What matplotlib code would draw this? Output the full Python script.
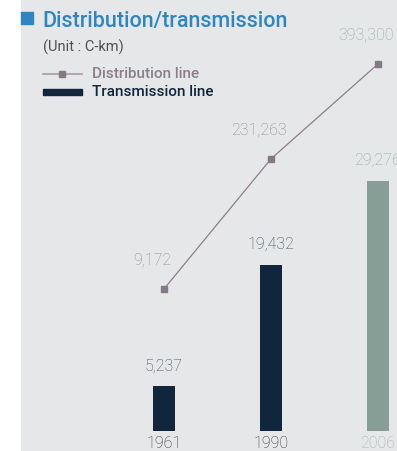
import matplotlib.pyplot as plt
from matplotlib.patches import Rectangle
from matplotlib.lines import Line2D

# circuit length, C-km
years = ['1961', '1990', '2006']
transmission = [5237, 19432, 29276]
distribution = [9172, 231263, 393300]

W, H = 397, 452
NAVY = '#10263c'
SAGE = '#869e95'
MAUVE = '#8a7f89'

plt.rcParams['font.family'] = ['Roboto', 'DejaVu Sans']

fig = plt.figure(figsize=(W / 100, H / 100), dpi=100, facecolor='white')


def fx(px):
    return px / W


def fy(py):
    return 1 - py / H


ax = fig.add_axes([fx(21), 0, 1 - fx(21), 1])
ax.set_facecolor('#e6e7e9')
xs = list(range(len(years)))
bar_colors = [NAVY, NAVY, SAGE]
ax.bar(xs, transmission, width=0.2, color=bar_colors)
ax.set_xlim(-1.336, 2.178)
ax.set_ylim(-2342, 50590)
ax.set_xticks([])
ax.set_yticks([])
for s in ax.spines.values():
    s.set_visible(False)

# bar values and years
val_colors = ['#3c4655', '#3c4655', '#8fa99f']
year_colors = ['#333333', '#333333', '#9fb3ab']
for i, v in enumerate(transmission):
    ax.annotate(f'{v:,}', xy=(i, v), xytext=(0, 14), textcoords='offset pixels',
                ha='center', va='bottom', fontsize=11.5, fontweight='light',
                color=val_colors[i])
    ax.annotate(years[i], xy=(i, 0), xytext=(0, -4), textcoords='offset pixels',
                ha='center', va='top', fontsize=11.5, fontweight='light',
                color=year_colors[i])

# distribution line on its own scale
ax2 = ax.twinx()
ax2.plot(xs, distribution, color='#8c8089', lw=0.9, marker='s', ms=5,
         mfc='#857985', mec='#857985', zorder=3)
ax2.set_ylim(-267394, 504260)
ax2.set_yticks([])
for s in ax2.spines.values():
    s.set_visible(False)

line_colors = ['#8f8a90', '#8f8a90', '#8fa99f']
for i, v in enumerate(distribution):
    ax2.annotate(f'{v:,}', xy=(i, v), xytext=(-12, 22), textcoords='offset pixels',
                 ha='center', va='bottom', fontsize=11.5, fontweight='light',
                 color=line_colors[i], annotation_clip=False)

# header
fig.patches.append(Rectangle((fx(21), fy(25)), fx(12), 12 / H,
                             transform=fig.transFigure, color='#2e86c1'))
fig.text(fx(42), fy(22), 'Distribution/transmission', fontsize=15.5,
         fontweight='medium', color='#2e86c1', va='center')
fig.text(fx(43), fy(47), '(Unit : C-km)', fontsize=10.5,
         color='#505050', va='center')

# legend
fig.lines.append(Line2D([fx(43), fx(82)], [fy(75), fy(75)], transform=fig.transFigure,
                        color='#a49ca3', lw=1.2))
fig.lines.append(Line2D([fx(62)], [fy(75)], transform=fig.transFigure, marker='s',
                        ms=5, color='#857985', lw=0))
fig.text(fx(92), fy(74), 'Distribution line', fontsize=11, fontweight='medium',
         color=MAUVE, va='center')
fig.patches.append(Rectangle((fx(43), fy(96)), fx(39), 6 / H,
                             transform=fig.transFigure, color=NAVY))
fig.text(fx(92), fy(92), 'Transmission line', fontsize=11, fontweight='medium',
         color=NAVY, va='center')

fig.savefig('out.png', dpi=100, facecolor=fig.get_facecolor())
